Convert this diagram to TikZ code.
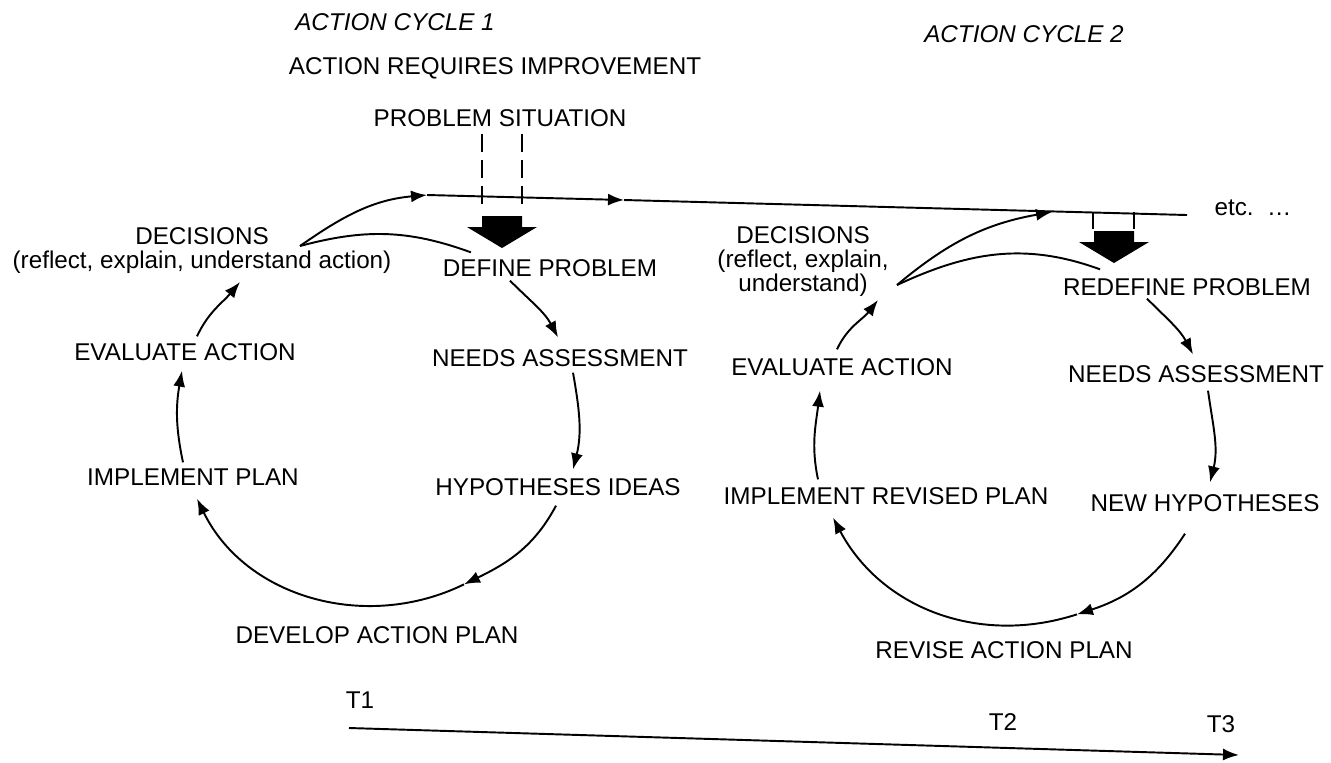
\documentclass[tikz,border=0pt]{standalone}
\usepackage{fontspec}
\setmainfont{Liberation Sans}
\usetikzlibrary{arrows.meta}

\begin{document}
\begin{tikzpicture}[
  x=0.02cm, y=0.02cm,
  font=\fontsize{13.8}{13.5}\selectfont,
  line width=1.1pt,
  lbl/.style={inner sep=0pt, text height=9.9pt, text depth=0pt},
  multi/.style={inner sep=0pt, align=center, anchor=north},
  arr/.style={-{Latex[length=3.2mm, width=2.4mm]}},
  feed/.style={dashed, dash pattern=on 0.36cm off 0.16cm},
  blockarrow/.pic={\fill (-20,0) -- (20,0) -- (20,-11) -- (35,-11) -- (0,-32) -- (-35,-11) -- (-20,-11) -- cycle;}
]
  \useasboundingbox (0,0) rectangle (1331,-762);

  % headings
  \node[lbl] (cyc1) at (395,-22) {\itshape ACTION CYCLE 1};
  \node[lbl] (cyc2) at (1024,-34) {\itshape ACTION CYCLE 2};
  \node[lbl] (req) at (495,-66) {ACTION REQUIRES IMPROVEMENT};
  \node[lbl] (prob) at (500,-118) {PROBLEM SITUATION};
  \node[lbl] (etc) at (1253,-207) {etc.\ \ \ldots};

  % first cycle
  \node[multi] (dec1) at (202,-227) {DECISIONS\\(reflect, explain, understand action)};
  \node[lbl] (def) at (550,-268) {DEFINE PROBLEM};
  \node[lbl] (needs1) at (560,-358) {NEEDS ASSESSMENT};
  \node[lbl] (hyp1) at (558,-487) {HYPOTHESES IDEAS};
  \node[lbl] (dev) at (377,-635) {DEVELOP ACTION PLAN};
  \node[lbl] (impl1) at (193,-477) {IMPLEMENT PLAN};
  \node[lbl] (eval1) at (185,-352) {EVALUATE ACTION};

  % second cycle
  \node[multi] (dec2) at (803,-226) {DECISIONS\\(reflect, explain,\\understand)};
  \node[lbl] (redef) at (1187,-287) {REDEFINE PROBLEM};
  \node[lbl] (needs2) at (1196,-374) {NEEDS ASSESSMENT};
  \node[lbl] (hyp2) at (1205,-503) {NEW HYPOTHESES};
  \node[lbl] (rev) at (1004,-650) {REVISE ACTION PLAN};
  \node[lbl] (impl2) at (886,-496) {IMPLEMENT REVISED PLAN};
  \node[lbl] (eval2) at (842,-367) {EVALUATE ACTION};

  % time axis
  \node[lbl] (t1) at (360,-700) {T1};
  \node[lbl] (t2) at (1003,-722) {T2};
  \node[lbl] (t3) at (1221,-724) {T3};

  \coordinate (fork1) at (300,-246);
  \coordinate (fork2) at (897,-285);
  \coordinate (lineA) at (427,-195);
  \coordinate (lineM) at (624,-200);
  \coordinate (lineC) at (1052,-212);
  \coordinate (lineB) at (1187,-215);
  \coordinate (blk1) at (502,-216);
  \coordinate (blk2) at (1114,-231);
  \coordinate (tstart) at (349,-728);
  \coordinate (tend) at (1239,-755);

  % the running line across both cycles
  \draw[arr] (fork1) to[out=35, in=185] (lineA);
  \draw (fork1) to[out=15, in=160] ([shift={(29,6)}]def.north west);
  \draw[arr] (lineA) -- (lineM);
  \draw (lineM) -- (lineB);
  \draw[arr] (fork2) to[out=40, in=190] (lineC);
  \draw (fork2) to[out=25, in=160] ([shift={(38,8)}]redef.north west);

  % problem input
  \draw[feed] ([shift={(-18,-6)}]prob.south) -- ([shift={(-20,8)}]blk1);
  \draw[feed] ([shift={(22,-6)}]prob.south) -- ([shift={(20,8)}]blk1);
  \pic at (blk1) {blockarrow};
  \draw ([shift={(-21,19)}]blk2) -- ([shift={(-21,2)}]blk2);
  \draw ([shift={(20,19)}]blk2) -- ([shift={(20,2)}]blk2);
  \pic at (blk2) {blockarrow};

  % cycle 1 steps
  \draw[arr] ([shift={(-40,-3)}]def.south) to[out=-45, in=118] ([shift={(-2,11)}]needs1.north);
  \draw[arr] ([shift={(13,-5)}]needs1.south) to[out=-80, in=76] ([shift={(15,8)}]hyp1.north);
  \draw[arr] ([shift={(-2,-9)}]hyp1.south) to[out=-118, in=26] ([shift={(87,41)}]dev.north);
  \draw[arr] ([shift={(87,41)}]dev.north) to[out=-154, in=-64] ([shift={(4,-12)}]impl1.south);
  \draw[arr] ([shift={(-10,5)}]impl1.north) to[out=102, in=-100] ([shift={(-3,-9)}]eval1.south);
  \draw[arr] ([shift={(12,6)}]eval1.north) to[out=65, in=-130] ([shift={(38,-55)}]dec1.north);

  % cycle 2 steps
  \draw[arr] ([shift={(-40,-2)}]redef.south) to[out=-45, in=118] ([shift={(-3,10)}]needs2.north);
  \draw[arr] ([shift={(12,-7)}]needs2.south) to[out=-82, in=76] ([shift={(5,11)}]hyp2.north);
  \draw[arr] ([shift={(-20,-21)}]hyp2.south) to[out=-123, in=18] ([shift={(73,26)}]rev.north);
  \draw[arr] ([shift={(73,26)}]rev.north) to[out=-162, in=-62] ([shift={(-53,-12)}]impl2.south);
  \draw[arr] ([shift={(-68,7)}]impl2.north) to[out=102, in=-97] ([shift={(-22,-14)}]eval2.south);
  \draw[arr] ([shift={(-5,8)}]eval2.north) to[out=65, in=-128] ([shift={(75,-74)}]dec2.north);

  \draw[arr] (tstart) -- (tend);
\end{tikzpicture}
\end{document}
